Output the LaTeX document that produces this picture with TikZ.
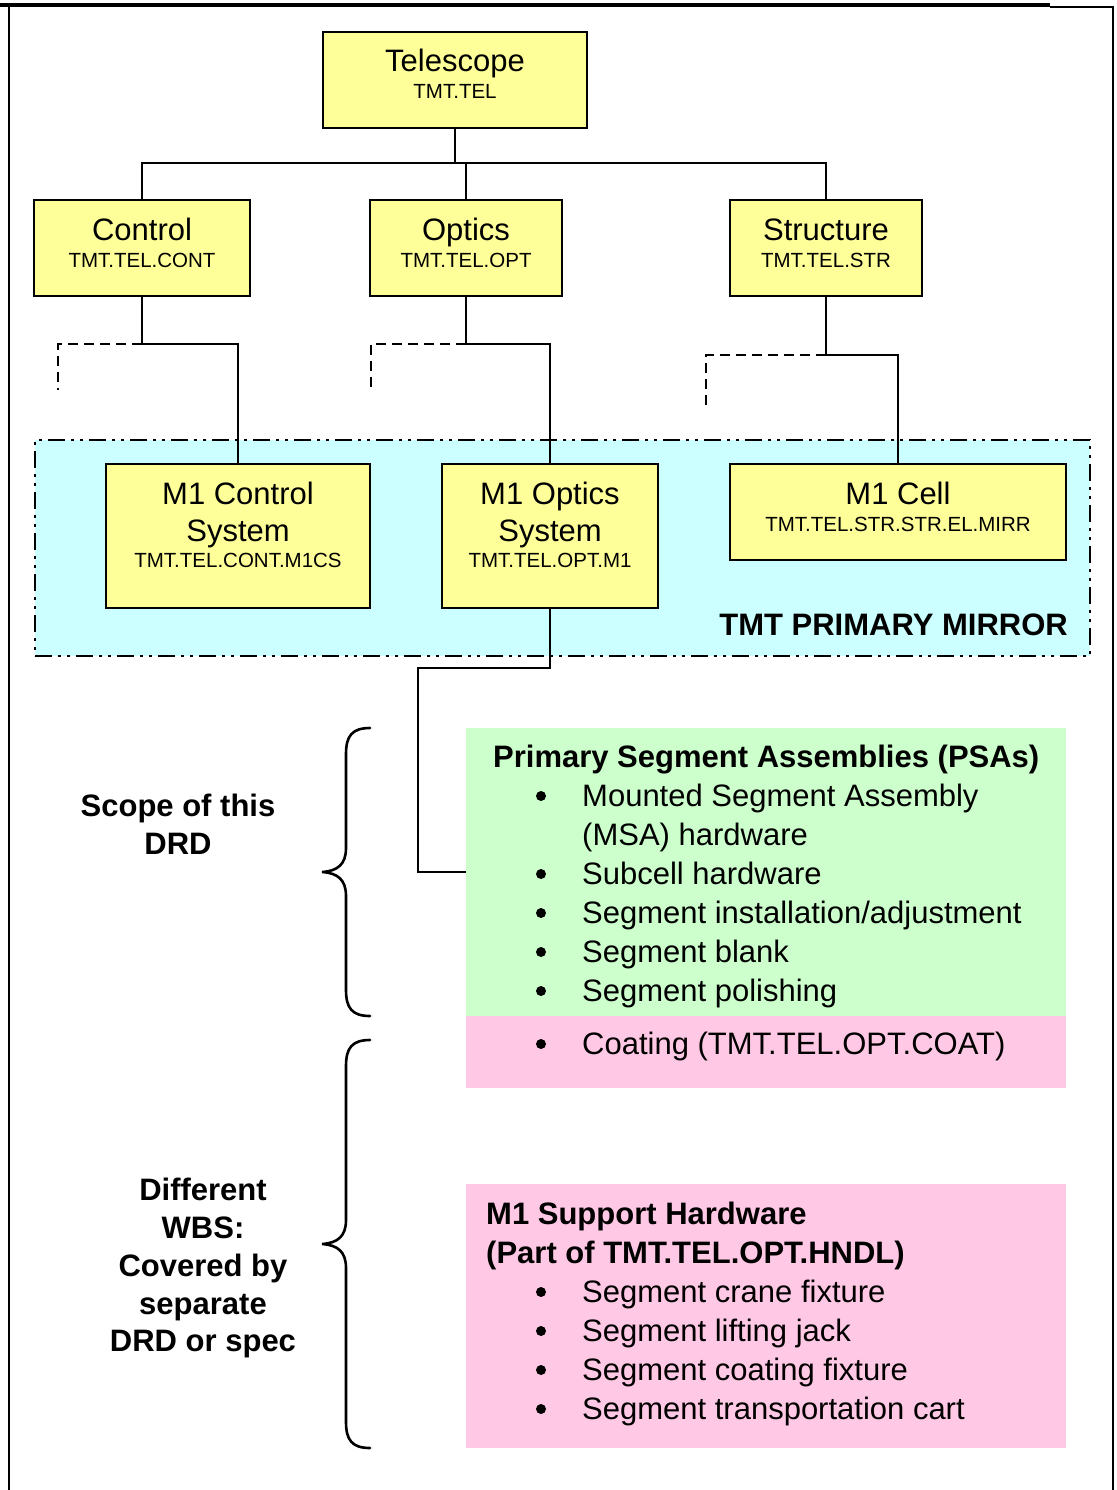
\documentclass[tikz,border=0pt]{standalone}
\usepackage{fontspec}
\setmainfont{Liberation Sans}
\definecolor{boxyellow}{HTML}{FFFF99}
\definecolor{mirrorblue}{HTML}{CCFFFF}
\definecolor{psagreen}{HTML}{CCFFCC}
\definecolor{hwpink}{HTML}{FFC8E4}
\tikzset{
  ybox/.style={draw, fill=boxyellow, line width=1.8pt, inner sep=0pt, rectangle},
  big/.style={font=\fontsize{31}{37}\selectfont, anchor=base, inner sep=0pt},
  bigb/.style={font=\fontsize{31}{37}\selectfont\bfseries, anchor=base, inner sep=0pt},
  small/.style={font=\fontsize{20.5}{24}\selectfont, anchor=base, inner sep=0pt},
  conn/.style={line width=2pt},
  dconn/.style={line width=2pt, dash pattern=on 10pt off 6pt},
  bul/.style={circle, fill=black, inner sep=0pt, minimum size=10pt},
  bracepath/.style={line width=2.6pt, line cap=round},
  area/.style={rectangle, inner sep=0pt, draw=none},
}
\begin{document}
\begin{tikzpicture}[x=1pt,y=-1pt]
\useasboundingbox (0,0) rectangle (1116,1490);
% page frame
\draw[line width=4pt] (0,5) -- (1050,5);
\draw[line width=1.5pt] (1050,7) -- (1113,7) -- (1113,1490);
\draw[line width=2pt] (9,4) -- (9,1490);

% primary mirror region
\node[draw, fill=mirrorblue, line width=2.2pt, dash pattern=on 17pt off 6pt on 3pt off 6pt on 3pt off 6pt,
      rectangle, inner sep=0pt, minimum width=1055pt, minimum height=216pt] (mirror) at (562.5,548) {};
\node[bigb, anchor=base east] (mirrorlbl) at (1068,635) {TMT PRIMARY MIRROR};

% yellow boxes
\node[ybox, minimum width=264pt, minimum height=96pt] (tel) at (455,80) {};
\node[ybox, minimum width=216pt, minimum height=96pt] (cont) at (142,248) {};
\node[ybox, minimum width=192pt, minimum height=96pt] (opt) at (466,248) {};
\node[ybox, minimum width=192pt, minimum height=96pt] (str) at (826,248) {};
\node[ybox, minimum width=264pt, minimum height=144pt] (m1c) at (238,536) {};
\node[ybox, minimum width=216pt, minimum height=144pt] (m1o) at (550,536) {};
\node[ybox, minimum width=336pt, minimum height=96pt] (cell) at (898,512) {};

\node[big] (telA) at (455,72) {Telescope};
\node[small] (telB) at (455,99) {TMT.TEL};
\node[big] (contA) at (142,240) {Control};
\node[small] (contB) at (142,267) {TMT.TEL.CONT};
\node[big] (optA) at (466,240) {Optics};
\node[small] (optB) at (466,267) {TMT.TEL.OPT};
\node[big] (strA) at (826,240) {Structure};
\node[small] (strB) at (826,267) {TMT.TEL.STR};
\node[big] (m1cA) at (238,504) {M1 Control};
\node[big] (m1cB) at (238,541) {System};
\node[small] (m1cC) at (238,567) {TMT.TEL.CONT.M1CS};
\node[big] (m1oA) at (550,504) {M1 Optics};
\node[big] (m1oB) at (550,541) {System};
\node[small] (m1oC) at (550,567) {TMT.TEL.OPT.M1};
\node[big] (cellA) at (898,504) {M1 Cell};
\node[small] (cellB) at (898,531) {TMT.TEL.STR.STR.EL.MIRR};

% coloured areas
\node[area, fill=psagreen, minimum width=600pt, minimum height=288pt] (psa) at (766,872) {};
\node[area, fill=hwpink, minimum width=600pt, minimum height=72pt] (coat) at (766,1052) {};
\node[area, fill=hwpink, minimum width=600pt, minimum height=264pt] (hw) at (766,1316) {};

% connectors
\coordinate (bus) at (455,163);
\draw[conn] (tel.south) -- (tel.south |- bus);
\draw[conn] (cont.north) -- (cont.north |- bus) -- (str.north |- bus) -- (str.north);
\draw[conn] (opt.north) -- (opt.north |- bus);

\coordinate (j1) at (142,344);
\coordinate (d1) at (58,390);
\draw[conn] (cont.south) -- (j1) -| (m1c.north);
\draw[dconn] (j1) -| (d1);

\coordinate (j2) at (466,344);
\coordinate (d2) at (371,390);
\draw[conn] (opt.south) -- (j2) -| (m1o.north);
\draw[dconn] (j2) -| (d2);

\coordinate (j3) at (826,355);
\coordinate (d3) at (706,410);
\draw[conn] (str.south) -- (j3) -| (cell.north);
\draw[dconn] (j3) -| (d3);

\coordinate (k1) at (550,668);
\coordinate (k2) at (418,668);
\draw[conn] (m1o.south) -- (k1) -- (k2) |- (psa.west);

% PSA text
\node[bigb, anchor=base west] (psaT) at (493,767) {Primary Segment Assemblies (PSAs)};
\node[bul] (pb1) at (541,796) {};
\node[big, anchor=base west] (p1) at (582,806) {Mounted Segment Assembly};
\node[big, anchor=base west] (p1b) at (582,845) {(MSA) hardware};
\node[bul] (pb2) at (541,874) {};
\node[big, anchor=base west] (p2) at (582,884) {Subcell hardware};
\node[bul] (pb3) at (541,913) {};
\node[big, anchor=base west] (p3) at (582,923) {Segment installation/adjustment};
\node[bul] (pb4) at (541,952) {};
\node[big, anchor=base west] (p4) at (582,962) {Segment blank};
\node[bul] (pb5) at (541,991) {};
\node[big, anchor=base west] (p5) at (582,1001) {Segment polishing};
\node[bul] (pb6) at (541,1044) {};
\node[big, anchor=base west] (p6) at (582,1054) {Coating (TMT.TEL.OPT.COAT)};

% support hardware text
\node[bigb, anchor=base west] (hwT1) at (486,1224) {M1 Support Hardware};
\node[bigb, anchor=base west] (hwT2) at (486,1263) {(Part of TMT.TEL.OPT.HNDL)};
\node[bul] (hb1) at (541,1292) {};
\node[big, anchor=base west] (h1) at (582,1302) {Segment crane fixture};
\node[bul] (hb2) at (541,1331) {};
\node[big, anchor=base west] (h2) at (582,1341) {Segment lifting jack};
\node[bul] (hb3) at (541,1370) {};
\node[big, anchor=base west] (h3) at (582,1380) {Segment coating fixture};
\node[bul] (hb4) at (541,1409) {};
\node[big, anchor=base west] (h4) at (582,1419) {Segment transportation cart};

% braces
\draw[bracepath] (370,728) .. controls (352,728) and (346,736) .. (346,754) -- (346,848)
  .. controls (346,864) and (338,871) .. (322,872)
  .. controls (338,873) and (346,880) .. (346,896) -- (346,990)
  .. controls (346,1008) and (352,1016) .. (370,1016);
\draw[bracepath] (370,1040) .. controls (352,1040) and (346,1048) .. (346,1066) -- (346,1220)
  .. controls (346,1236) and (338,1243) .. (322,1244)
  .. controls (338,1245) and (346,1252) .. (346,1268) -- (346,1422)
  .. controls (346,1440) and (352,1448) .. (370,1448);

% side labels
\node[bigb] (sc1) at (178,816) {Scope of this};
\node[bigb] (sc2) at (178,854) {DRD};
\node[bigb] (df1) at (203,1200) {Different};
\node[bigb] (df2) at (203,1238) {WBS:};
\node[bigb] (df3) at (203,1276) {Covered by};
\node[bigb] (df4) at (203,1314) {separate};
\node[bigb] (df5) at (203,1351) {DRD or spec};
\end{tikzpicture}
\end{document}
